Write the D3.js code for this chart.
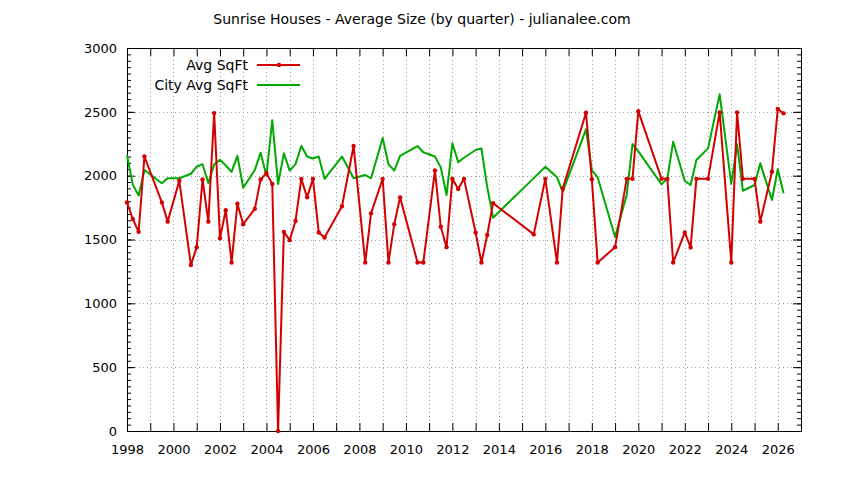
<!DOCTYPE html>
<html>
<head>
<meta charset="utf-8">
<script src="https://cdn.jsdelivr.net/npm/d3@7"></script>
<style>
  body { margin: 0; background: #fff; }
  svg text { font-family: "DejaVu Sans", sans-serif; fill: #000; }
</style>
</head>
<body>
<div id="chart"></div>
<script>
// quarter positions (year + fraction)
var quarters = [
  1998.00, 1998.25, 1998.50, 1998.75, 1999.50, 1999.75, 2000.25, 2000.75,
  2001.00, 2001.25, 2001.50, 2001.75, 2002.00, 2002.25, 2002.50, 2002.75,
  2003.00, 2003.50, 2003.75, 2004.00, 2004.25, 2004.50, 2004.75, 2005.00,
  2005.25, 2005.50, 2005.75, 2006.00, 2006.25, 2006.50, 2007.25, 2007.75,
  2008.25, 2008.50, 2009.00, 2009.25, 2009.50, 2009.75, 2010.50, 2010.75,
  2011.25, 2011.50, 2011.75, 2012.00, 2012.25, 2012.50, 2013.00, 2013.25,
  2013.50, 2013.75, 2015.50, 2016.00, 2016.50, 2016.75, 2017.75, 2018.00,
  2018.25, 2019.00, 2019.50, 2019.75, 2020.00, 2021.00, 2021.25, 2021.50,
  2022.00, 2022.25, 2022.50, 2023.00, 2023.50, 2024.00, 2024.25, 2024.50,
  2025.00, 2025.25, 2025.75, 2026.00, 2026.25
];

// Avg SqFt (red)
var avgSqFt = [
  1790, 1660, 1560, 2150, 1790, 1640, 1960, 1300,
  1440, 1970, 1640, 2490, 1510, 1730, 1320, 1780,
  1620, 1740, 1970, 2020, 1935, 0, 1560, 1495,
  1645, 1975, 1830, 1975, 1555, 1515, 1760, 2232,
  1320, 1705, 1975, 1320, 1620, 1830, 1320, 1320,
  2040, 1600, 1440, 1975, 1895, 1975, 1555, 1320,
  1535, 1785, 1540, 1975, 1320, 1900, 2493, 1972,
  1320, 1440, 1975, 1975, 2505, 1975, 1975, 1320,
  1555, 1438, 1975, 1975, 2496, 1320, 2496, 1975,
  1975, 1640, 2031, 2522, 2488
];

// City Avg SqFt (green)
var cityAvgSqFt = [
  2160, 1930, 1845, 2045, 1940, 1980, 1980, 2015,
  2070, 2090, 1940, 2090, 2125, 2080, 2030, 2155,
  1905, 2045, 2180, 2000, 2435, 1935, 2175, 2040,
  2090, 2232, 2150, 2135, 2150, 1975, 2150, 1980,
  2005, 1980, 2295, 2090, 2040, 2155, 2232, 2183,
  2150, 2065, 1849, 2254, 2105, 2140, 2201, 2214,
  1910, 1671, 1981, 2070, 1987, 1875, 2363, 2044,
  1987, 1520, 1849, 2248, 2190, 1932, 1979, 2266,
  1958, 1927, 2123, 2214, 2637, 1935, 2246, 1882,
  1927, 2097, 1809, 2050, 1862
];

var yTicks = [0, 500, 1000, 1500, 2000, 2500, 3000];
var yearTicks = d3.range(1998, 2028); // a tick every year, label every other one

var width = 844, height = 480;
var plotLeft = 127, plotRight = 801, plotTop = 48, plotBottom = 431;

var svg = d3.select("#chart").append("svg")
    .attr("width", width)
    .attr("height", height);

var x = d3.scaleLinear().domain([1998, 2027]).range([plotLeft, plotRight]);
var y = d3.scaleLinear().domain([0, 3000]).range([plotBottom, plotTop]);

// dotted grid
var grid = svg.append("g")
    .attr("stroke", "#a0a0a0")
    .attr("stroke-width", 1)
    .attr("stroke-dasharray", "1,3");

grid.selectAll("line.v")
    .data(yearTicks.filter(function(d) { return d > 1998 && d < 2027; }))
    .enter().append("line")
    .attr("x1", function(d) { return Math.round(x(d)) + 0.5; })
    .attr("x2", function(d) { return Math.round(x(d)) + 0.5; })
    .attr("y1", plotTop)
    .attr("y2", plotBottom);

grid.selectAll("line.h")
    .data(yTicks.filter(function(d) { return d > 0 && d < 3000; }))
    .enter().append("line")
    .attr("x1", plotLeft)
    .attr("x2", plotRight)
    .attr("y1", function(d) { return Math.round(y(d)) + 0.5; })
    .attr("y2", function(d) { return Math.round(y(d)) + 0.5; });

// axes, ticks pointing inward like gnuplot
function styleAxis(g) {
    g.select(".domain").remove();
    g.selectAll(".tick line").attr("stroke", "#000");
    g.selectAll("text").attr("font-family", "DejaVu Sans").attr("font-size", 13);
}

svg.append("g")
    .attr("transform", "translate(0," + plotBottom + ")")
    .call(d3.axisBottom(x).tickValues(yearTicks).tickSize(-8).tickPadding(14)
        .tickFormat(function(d) { return d % 2 === 0 ? d : ""; }))
    .call(styleAxis);

svg.append("g")
    .attr("transform", "translate(0," + plotTop + ")")
    .call(d3.axisTop(x).tickValues(yearTicks).tickSize(-8).tickFormat(""))
    .call(styleAxis);

svg.append("g")
    .attr("transform", "translate(" + plotLeft + ",0)")
    .call(d3.axisLeft(y).tickValues(d3.range(0, 3001, 50)).tickSize(-4).tickFormat(""))
    .call(styleAxis);

svg.append("g")
    .attr("transform", "translate(" + plotLeft + ",0)")
    .call(d3.axisLeft(y).tickValues(yTicks).tickSize(-8).tickPadding(10)
        .tickFormat(d3.format("d")))
    .call(styleAxis);

svg.append("g")
    .attr("transform", "translate(" + plotRight + ",0)")
    .call(d3.axisRight(y).tickValues(d3.range(0, 3001, 50)).tickSize(-4).tickFormat(""))
    .call(styleAxis);

svg.append("g")
    .attr("transform", "translate(" + plotRight + ",0)")
    .call(d3.axisRight(y).tickValues(yTicks).tickSize(-8).tickFormat(""))
    .call(styleAxis);

// border
svg.append("rect")
    .attr("x", plotLeft + 0.5)
    .attr("y", plotTop + 0.5)
    .attr("width", plotRight - plotLeft)
    .attr("height", plotBottom - plotTop)
    .attr("fill", "none")
    .attr("stroke", "#000")
    .attr("stroke-width", 1);

var redColor = "#d40000";
var greenColor = "#00a800";

var line = function(values) {
    return d3.line()
        .x(function(d, i) { return x(quarters[i]); })
        .y(function(d) { return y(d); })(values);
};

svg.append("path")
    .attr("d", line(cityAvgSqFt))
    .attr("fill", "none")
    .attr("stroke", greenColor)
    .attr("stroke-width", 2)
    .attr("stroke-linejoin", "round");

svg.append("path")
    .attr("d", line(avgSqFt))
    .attr("fill", "none")
    .attr("stroke", redColor)
    .attr("stroke-width", 2)
    .attr("stroke-linejoin", "round");

svg.selectAll("circle.pt")
    .data(avgSqFt)
    .enter().append("circle")
    .attr("cx", function(d, i) { return x(quarters[i]); })
    .attr("cy", function(d) { return y(d); })
    .attr("r", 2.2)
    .attr("fill", redColor);

// title
svg.append("text")
    .attr("x", 422)
    .attr("y", 24)
    .attr("text-anchor", "middle")
    .attr("font-size", 14)
    .text("Sunrise Houses - Average Size (by quarter) - julianalee.com");

// legend
var legend = [
    { name: "Avg SqFt", color: redColor, y: 65, marker: true },
    { name: "City Avg SqFt", color: greenColor, y: 85, marker: false }
];

legend.forEach(function(l) {
    svg.append("text")
        .attr("x", 248)
        .attr("y", l.y)
        .attr("dy", "0.35em")
        .attr("text-anchor", "end")
        .attr("font-size", 14)
        .text(l.name);
    svg.append("line")
        .attr("x1", 257)
        .attr("x2", 300)
        .attr("y1", l.y)
        .attr("y2", l.y)
        .attr("stroke", l.color)
        .attr("stroke-width", 2);
    if (l.marker) {
        svg.append("circle")
            .attr("cx", 279)
            .attr("cy", l.y)
            .attr("r", 2.2)
            .attr("fill", l.color);
    }
});
</script>
</body>
</html>
